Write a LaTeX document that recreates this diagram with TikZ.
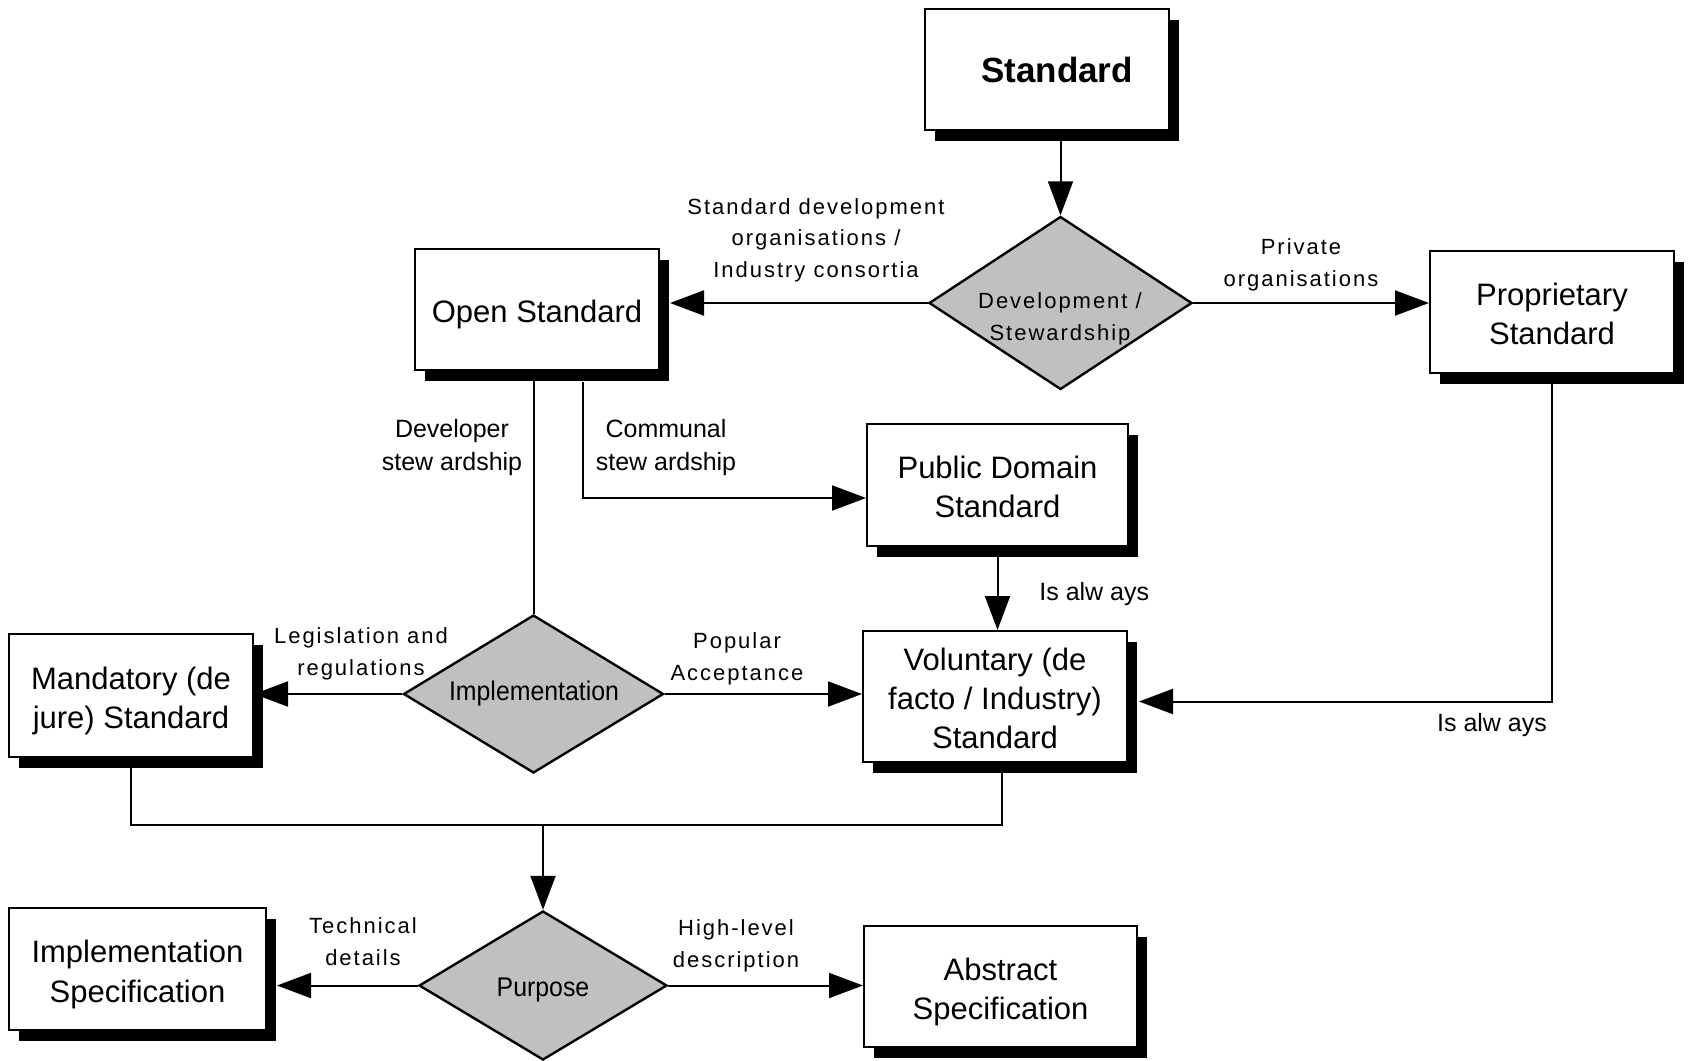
\documentclass[tikz,border=0pt]{standalone}
\usepackage{fontspec}
\setmainfont{Liberation Sans}
\newfontfamily\lblfont[LetterSpace=9]{Liberation Sans}
\newfontfamily\condfont[FakeStretch=0.92]{Liberation Sans}
\usetikzlibrary{shapes.geometric,arrows.meta,shadows,calc}
\definecolor{diagray}{HTML}{C0C0C0}
\begin{document}
\begin{tikzpicture}[x=0.5pt,y=-0.5pt,
  boxbase/.style={draw, line width=1pt, fill=white, inner sep=2pt,
    drop shadow={shadow xshift=5pt, shadow yshift=-5.5pt, fill=black, opacity=1}},
  box/.style={boxbase, label={[boxtxt]center:#1}},
  boxu/.style={boxbase, label={[boxtxt,yshift=1.6pt]center:#1}},
  boxtxt/.style={align=center, inner sep=0pt, yshift=-2.7pt,
    font=\fontsize{15.5}{19.6}\selectfont},
  dia/.style={diamond, draw, line width=1.2pt, fill=diagray, inner sep=0pt},
  lbl/.style={font=\lblfont\fontsize{11}{15.75}\selectfont, align=center, inner sep=0pt},
  lblt/.style={font=\fontsize{12.5}{16.5}\selectfont, align=center, inner sep=0pt},
  diatxt/.style={font=\condfont\fontsize{13.5}{16}\selectfont, inner sep=0pt},
  ln/.style={line width=1pt},
  arr/.style={line width=1pt, -{Triangle[length=17pt,width=12.5pt]}}
]
\useasboundingbox (0,0) rectangle (1688,1061);

% boxes
\node[boxbase, minimum width=122pt, minimum height=60.5pt] (std) at (1047,69.5) {};
\node[font=\bfseries\fontsize{17.5}{21}\selectfont, anchor=base, inner sep=0pt] (stdtxt) at (1057,82) {Standard};
\node[box={Open Standard}, minimum width=122pt, minimum height=60.5pt] (open) at (537,309.5) {};
\node[boxu={Proprietary\\Standard}, minimum width=122pt, minimum height=61pt] (prop) at (1552,312) {};
\node[boxu={Public Domain\\Standard}, minimum width=130.5pt, minimum height=61pt] (pd) at (997.5,485) {};
\node[boxu={Voluntary (de\\facto / Industry)\\Standard}, minimum width=132pt, minimum height=65.5pt] (vol) at (995,696.5) {};
\node[box={Mandatory (de\\jure) Standard}, minimum width=122pt, minimum height=61.5pt] (mand) at (131,695.5) {};
\node[box={Implementation\\Specification}, minimum width=128.5pt, minimum height=61pt] (ispec) at (137.5,969) {};
\node[box={Abstract\\Specification}, minimum width=136.5pt, minimum height=60.5pt] (abs) at (1000.5,986.5) {};

% diamonds
\node[dia, minimum width=131.5pt, minimum height=86.5pt] (dev) at (1060.5,303) {};
\node[dia, minimum width=130pt, minimum height=79pt] (impl) at (533.5,694) {};
\node[dia, minimum width=124pt, minimum height=74.5pt] (purp) at (543,985.5) {};

\node[lbl, anchor=base] (devtxt) at (1060,340) {Development /\\Stewardship};
\node[diatxt, anchor=base] (impltxt) at (534,700) {Implementation};
\node[diatxt, anchor=base] (purptxt) at (543,996) {Purpose};

% connectors
\draw[arr] (dev.north |- std.south) -- (dev.north);
\draw[arr] (dev.west) -- ([xshift=5pt]open.east |- dev.west);
\draw[arr] (dev.east) -- (dev.east -| prop.west);
\draw[ln] (impl.north |- open.south) -- (impl.north);
\draw[arr] ($(open.south)+(46,11)$) |- ($(pd.west)+(0,13)$);
\draw[arr] (pd.south) -- (pd.south |- vol.north);
\draw[arr] (prop.south) |- ($(vol.east)+(11,5)$);
\draw[arr] (impl.west) -- (impl.west -| mand.east);
\draw[arr] (impl.east) -- (impl.east -| vol.west);
\coordinate (mj) at (543,825);
\draw[ln] (mand.south) |- (mj) -| ([xshift=3.5pt]vol.south);
\draw[arr] (mj) -- (purp.north);
\draw[arr] (purp.west) -- ([xshift=5pt]ispec.east |- purp.west);
\draw[arr] (purp.east) -- (purp.east -| abs.west);

% labels (anchor at baseline of last line)
\node[lbl, anchor=base] (l1) at (816,277) {Standard development\\organisations /\\Industry consortia};
\node[lbl, anchor=base] (l2) at (1301,286) {Private\\organisations};
\node[lblt, anchor=base] (l3) at (452,470) {Developer\\stew ardship};
\node[lblt, anchor=base] (l4) at (666,470) {Communal\\stew ardship};
\node[lblt, anchor=base west] (l5) at (1039,600) {Is alw ays};
\node[lblt, anchor=base] (l6) at (1492,731) {Is alw ays};
\node[lbl, anchor=base] (l7) at (361,675) {Legislation and\\regulations};
\node[lbl, anchor=base] (l8) at (737,680) {Popular\\Acceptance};
\node[lbl, anchor=base] (l9) at (363,965) {Technical\\details};
\node[lbl, anchor=base] (l10) at (736,967) {High-level\\description};
\end{tikzpicture}
\end{document}
